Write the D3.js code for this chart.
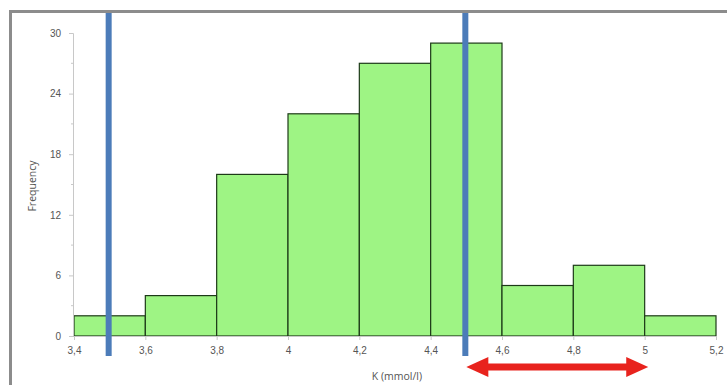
<!DOCTYPE html>
<html>
<head>
<meta charset="utf-8">
<script src="https://cdn.jsdelivr.net/npm/d3@7"></script>
<style>
  body { margin: 0; background: #fff; }
  svg { display: block; font-family: "Open Sans", "DejaVu Sans", sans-serif; }
</style>
</head>
<body>
<svg id="chart"></svg>
<script>
// Data
var binEdges = [3.4, 3.6, 3.8, 4.0, 4.2, 4.4, 4.6, 4.8, 5.0, 5.2];
var counts = [2, 4, 16, 22, 27, 29, 5, 7, 2];
var xTicks = [3.4, 3.6, 3.8, 4.0, 4.2, 4.4, 4.6, 4.8, 5.0, 5.2];
var yTicks = [0, 6, 12, 18, 24, 30];
var yMinorTicks = [3, 9, 15, 21, 27];
var limitLines = [3.5, 4.5];
var arrowRange = [4.5, 5.01];

var width = 727;
var height = 385;

var svg = d3.select("#chart")
    .attr("width", width)
    .attr("height", height);

// outer frame (runs off the right and bottom of the picture)
svg.append("rect")
    .attr("x", 10.5).attr("y", 11.5)
    .attr("width", width).attr("height", height)
    .attr("fill", "none")
    .attr("stroke", "#8c8c8c")
    .attr("stroke-width", 3);

var x = d3.scaleLinear().domain([3.4, 5.2]).range([74, 716]);
var y = d3.scaleLinear().domain([0, 30]).range([336, 33]);

var bins = counts.map(function (c, i) { return { x0: binEdges[i], x1: binEdges[i + 1], n: c }; });

// bars
svg.append("g").selectAll("rect")
    .data(bins)
    .enter().append("rect")
    .attr("x", function (d) { return x(d.x0); })
    .attr("y", function (d) { return y(d.n); })
    .attr("width", function (d) { return x(d.x1) - x(d.x0); })
    .attr("height", function (d) { return y(0) - y(d.n); })
    .attr("fill", "#9ef484")
    .attr("stroke", "#1d3a18")
    .attr("stroke-width", 1.2);

// y axis
var yAxis = svg.append("g")
    .attr("transform", "translate(" + 73 + ",0)")
    .call(d3.axisLeft(y).tickValues(yTicks).tickSize(4).tickPadding(8));
yAxis.select(".domain").attr("stroke", "#c8c8c8");
yAxis.selectAll(".tick line").attr("stroke", "#c8c8c8");
yAxis.selectAll("text").attr("fill", "#555").attr("font-size", 10);
yAxis.append("g").selectAll("line")
    .data(yMinorTicks)
    .enter().append("line")
    .attr("x1", -2).attr("x2", 0)
    .attr("y1", function (d) { return y(d); })
    .attr("y2", function (d) { return y(d); })
    .attr("stroke", "#c8c8c8");

// x axis
var xAxis = svg.append("g")
    .attr("transform", "translate(0," + 336 + ")")
    .call(d3.axisBottom(x).tickValues(xTicks).tickSize(4).tickPadding(7)
        .tickFormat(function (d) { return d3.format("~g")(d).replace(".", ","); }));
xAxis.select(".domain").attr("stroke", "#c8c8c8");
xAxis.selectAll(".tick line").attr("stroke", "#c8c8c8");
xAxis.selectAll("text").attr("fill", "#555").attr("font-size", 10);

// axis titles
svg.append("text")
    .attr("x", 397).attr("y", 380)
    .attr("text-anchor", "middle")
    .attr("font-size", 10.5)
    .attr("fill", "#555")
    .text("K (mmol/l)");

svg.append("text")
    .attr("transform", "translate(36,186)rotate(-90)")
    .attr("text-anchor", "middle")
    .attr("font-size", 10.5)
    .attr("fill", "#555")
    .text("Frequency");

// reference limits
svg.append("g").selectAll("line")
    .data(limitLines)
    .enter().append("line")
    .attr("x1", function (d) { return x(d) - 1; })
    .attr("x2", function (d) { return x(d) - 1; })
    .attr("y1", 13).attr("y2", 356)
    .attr("stroke", "#4c7cb9")
    .attr("stroke-width", 6);

// red double arrow
var ax0 = x(arrowRange[0]), ax1 = x(arrowRange[1]), ay = 367;
var head = 22, half = 10, shaft = 3.5;
svg.append("path")
    .attr("d", [
        "M", ax0, ay,
        "L", ax0 + head, ay - half,
        "L", ax0 + head, ay - shaft,
        "L", ax1 - head, ay - shaft,
        "L", ax1 - head, ay - half,
        "L", ax1, ay,
        "L", ax1 - head, ay + half,
        "L", ax1 - head, ay + shaft,
        "L", ax0 + head, ay + shaft,
        "L", ax0 + head, ay + half,
        "Z"].join(" "))
    .attr("fill", "#e8231d");
</script>
</body>
</html>
